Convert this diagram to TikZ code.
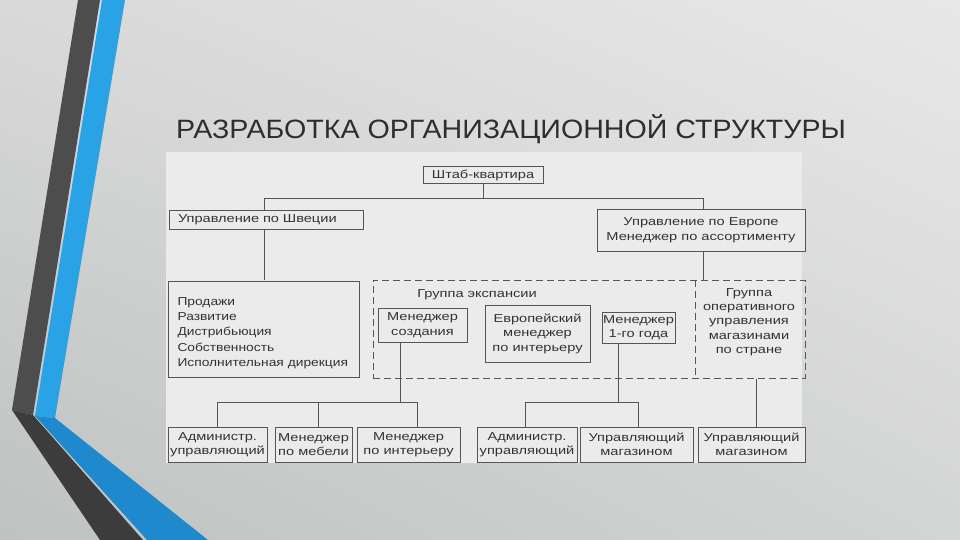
\documentclass[tikz,border=0pt]{standalone}
\usepackage{fontspec}
\usetikzlibrary{shadings}
\setmainfont{Liberation Sans}
\newfontfamily\dfont[FakeStretch=1.27]{Liberation Sans}
\newfontfamily\dfontb[FakeStretch=1.2]{Liberation Sans}
\newfontfamily\tfont[FakeStretch=1.08]{Liberation Sans}
\definecolor{bgul}{HTML}{D9D9D9}
\definecolor{bgur}{HTML}{E8E8E8}
\definecolor{bgll}{HTML}{BEC2C1}
\definecolor{bglr}{HTML}{D3D5D4}
\definecolor{darkA}{HTML}{4D4D4D}
\definecolor{darkB}{HTML}{3C3C3C}
\definecolor{blueA}{HTML}{2AA3E6}
\definecolor{blueB}{HTML}{1E89CC}
\definecolor{scanbg}{HTML}{EBEBEB}
\definecolor{linec}{HTML}{555555}
\definecolor{textc}{HTML}{333333}
\definecolor{titlec}{HTML}{2E2E2E}
\begin{document}
\begin{tikzpicture}[x=1pt,y=-1pt,
  box/.style={draw=linec, line width=1pt, fill=scanbg, inner sep=0pt,
    font=\dfont\fontsize{11.5}{14.5}\selectfont, text=textc, align=center},
  dbox/.style={draw=linec, line width=1pt, dash pattern=on 7pt off 4pt, inner sep=0pt},
  lbl/.style={font=\dfont\fontsize{11.5}{14.5}\selectfont, text=textc, align=center, inner sep=0pt},
  conn/.style={draw=linec, line width=0.9pt},
  divl/.style={draw=linec, line width=1pt, dash pattern=on 7pt off 4pt}]
\useasboundingbox (0,0) rectangle (960,540);
% slide background
\shade[upper left=bgul, upper right=bgur, lower left=bgll, lower right=bglr] (0,0) rectangle (960,540);
% decorative stripes
\fill[darkA] (78,0) -- (100,0) -- (33,415) -- (12,410) -- cycle;
\fill[darkB] (12,410) -- (33,415) -- (143,540) -- (100,540) -- cycle;
\fill[blueA] (102,0) -- (125,0) -- (55,418) -- (35,416) -- cycle;
\fill[blueB] (35,416) -- (55,418) -- (208,540) -- (147,540) -- cycle;
% title
\node[anchor=base west, inner sep=0pt, text=titlec, font=\tfont\fontsize{26.5}{30}\selectfont] (title) at (176,139) {РАЗРАБОТКА ОРГАНИЗАЦИОННОЙ СТРУКТУРЫ};
% scanned chart area
\fill[scanbg] (166,152) rectangle (802,463);
% junction coordinates
\coordinate (jl) at (264,198);
\coordinate (jc) at (483,198);
\coordinate (jr) at (703,198);
\coordinate (jm) at (400,402);
\coordinate (t1) at (217,402);
\coordinate (t2) at (318,402);
\coordinate (t3) at (417,402);
\coordinate (jm2) at (618,402);
\coordinate (t4) at (525,402);
\coordinate (t5) at (638,402);
\coordinate (jo) at (756,402);
% dashed group
\node[dbox, minimum width=432pt, minimum height=98pt] (grp) at (589,329) {};
\coordinate (dv) at (695,329);
% connectors (drawn first, boxes cover them)
\draw[conn] (jl) -- (jr);
\draw[conn] (jl) -- (jl |- grp.north);
\draw[conn] (jr) -- (jr |- grp.north);
\draw[conn] (t1) -- (t3);
\draw[conn] (t4) -- (t5);
% boxes
\node[box, minimum width=120pt, minimum height=17pt] (hq) at (483,175) {Штаб-квартира};
\node[box, minimum width=194pt, minimum height=19pt, text width=176pt, align=left] (sw) at (266,219.5) {Управление по Швеции};
\node[box, minimum width=208pt, minimum height=42pt] (eu) at (701,230) {Управление по Европе\\Менеджер по ассортименту};
\node[box, minimum width=191pt, minimum height=96pt, text width=172pt, align=left, font=\dfontb\fontsize{11.5}{15.2}\selectfont] (sales) at (263.5,329.5) {\rule{0pt}{15pt}Продажи\\Развитие\\Дистрибьюция\\Собственность\\Исполнительная дирекция};
\node[box, minimum width=89pt, minimum height=34pt] (mc) at (422.5,325) {Менеджер\\создания};
\node[box, minimum width=105pt, minimum height=57pt] (ei) at (537.5,333.5) {Европейский\\менеджер\\по интерьеру};
\node[box, minimum width=73pt, minimum height=31pt] (m1) at (638.5,327.5) {Менеджер\\1-го года};
\node[lbl] (ge) at (477,295) {Группа экспансии};
\node[lbl, font=\dfont\fontsize{11.5}{14.3}\selectfont] (og) at (749,322) {Группа\\оперативного\\управления\\магазинами\\по стране};
\node[box, minimum width=99pt, minimum height=35pt] (b1) at (217.5,444.5) {Администр.\\управляющий};
\node[box, minimum width=77pt, minimum height=35pt] (b2) at (313.5,444.5) {Менеджер\\по мебели};
\node[box, minimum width=103pt, minimum height=35pt] (b3) at (408.5,444.5) {Менеджер\\по интерьеру};
\node[box, minimum width=100pt, minimum height=35pt] (b4) at (527,444.5) {Администр.\\управляющий};
\node[box, minimum width=113pt, minimum height=35pt] (b5) at (636.5,444.5) {Управляющий\\магазином};
\node[box, minimum width=107pt, minimum height=35pt] (b6) at (751.5,444.5) {Управляющий\\магазином};
% remaining connectors
\draw[conn] (hq.south) -- (jc);
\draw[conn] (jm |- mc.south) -- (jm);
\draw[conn] (t1) -- (t1 |- b1.north);
\draw[conn] (t2) -- (t2 |- b2.north);
\draw[conn] (t3) -- (t3 |- b3.north);
\draw[conn] (jm2 |- m1.south) -- (jm2);
\draw[conn] (t4) -- (t4 |- b4.north);
\draw[conn] (t5) -- (t5 |- b5.north);
\draw[conn] (jo |- grp.south) -- (jo |- b6.north);
\draw[divl] (dv |- grp.north) -- (dv |- grp.south);
\end{tikzpicture}
\end{document}
